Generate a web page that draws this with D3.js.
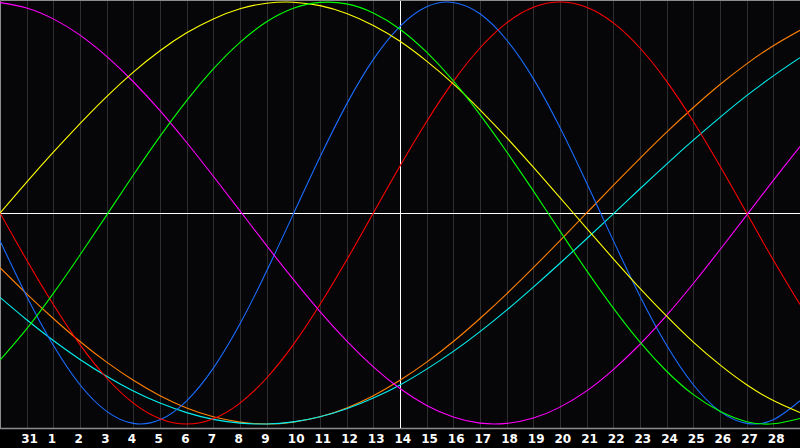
<!DOCTYPE html>
<html>
<head>
<meta charset="utf-8">
<script src="https://cdn.jsdelivr.net/npm/d3@7"></script>
<style>
  html, body { margin: 0; padding: 0; background: #000; }
  svg { display: block; }
</style>
</head>
<body>
<div id="bio"></div>
<script>
const WIDTH = 800;
const HEIGHT = 448;
const PLOT_BOTTOM = 428;

// day slots 0..30, today (14) sits in slot 15
const DAY_LABELS = ["31", "1", "2", "3", "4", "5", "6", "7", "8", "9", "10", "11", "12", "13", "14",
  "15", "16", "17", "18", "19", "20", "21", "22", "23", "24", "25", "26", "27", "28"];
const TODAY_SLOT = 15;

// values, one per day slot (-1 .. 1)
const blue = [-0.131, -0.394, -0.627, -0.814, -0.940, -0.997, -0.980, -0.890, -0.735, -0.525, -0.275,
  -0.005, 0.265, 0.516, 0.728, 0.885, 0.978, 0.998, 0.944, 0.820, 0.637, 0.405, 0.142, -0.131,
  -0.394, -0.627, -0.814, -0.940, -0.997, -0.980, -0.890];
const red = [0, -0.223, -0.434, -0.624, -0.782, -0.901, -0.975, -1, -0.975, -0.901, -0.782, -0.624,
  -0.434, -0.223, 0, 0.223, 0.434, 0.624, 0.782, 0.901, 0.975, 1, 0.975, 0.901, 0.782, 0.624,
  0.434, 0.223, 0, -0.223, -0.434];
const green = [-0.697, -0.549, -0.381, -0.199, -0.010, 0.180, 0.363, 0.533, 0.683, 0.809, 0.906,
  0.970, 0.998, 0.991, 0.948, 0.871, 0.762, 0.626, 0.466, 0.290, 0.105, -0.086, -0.273, -0.451,
  -0.612, -0.750, -0.861, -0.940, -0.989, -0.999, -0.974];
const yellow = [0, 0.146, 0.288, 0.424, 0.552, 0.668, 0.769, 0.854, 0.920, 0.968, 0.994, 0.999,
  0.983, 0.946, 0.889, 0.814, 0.720, 0.612, 0.489, 0.357, 0.217, 0.073, -0.073, -0.217, -0.357,
  -0.489, -0.612, -0.720, -0.814, -0.889, -0.946];
const magenta = [0.997, 0.972, 0.920, 0.843, 0.742, 0.622, 0.485, 0.334, 0.174, 0.010, -0.155,
  -0.315, -0.467, -0.606, -0.729, -0.832, -0.912, -0.967, -0.996, -0.997, -0.972, -0.920, -0.843,
  -0.742, -0.622, -0.485, -0.334, -0.174, -0.010, 0.155, 0.315];
const orange = [-0.259, -0.383, -0.5, -0.609, -0.707, -0.793, -0.866, -0.924, -0.966, -0.991, -1,
  -0.991, -0.966, -0.924, -0.866, -0.793, -0.707, -0.609, -0.5, -0.383, -0.259, -0.131, 0, 0.131,
  0.259, 0.383, 0.5, 0.609, 0.707, 0.793, 0.866];
const cyan = [-0.400, -0.506, -0.604, -0.694, -0.774, -0.844, -0.901, -0.946, -0.978, -0.996, -1,
  -0.990, -0.966, -0.928, -0.877, -0.815, -0.740, -0.656, -0.562, -0.460, -0.351, -0.238, -0.122,
  -0.004, 0.115, 0.232, 0.345, 0.453, 0.556, 0.650, 0.736];

const SERIES = [
  { values: orange, color: "#ff8000" },
  { values: cyan, color: "#00f0f0" },
  { values: blue, color: "#1a6cff" },
  { values: red, color: "#ff0000" },
  { values: magenta, color: "#ff00ff" },
  { values: yellow, color: "#ffff00" },
  { values: green, color: "#00ff00" }
];

const svg = d3.select("#bio")
  .append("svg")
  .attr("width", WIDTH)
  .attr("height", HEIGHT);

svg.append("rect")
  .attr("width", WIDTH)
  .attr("height", HEIGHT)
  .attr("fill", "#000000");

svg.append("rect")
  .attr("width", WIDTH)
  .attr("height", PLOT_BOTTOM)
  .attr("fill", "#060608");

const xScale = d3.scaleLinear()
  .domain([0, 30])
  .range([0, WIDTH]);

const yScale = d3.scaleLinear()
  .domain([-1, 1])
  .range([424, 2]);

// day grid
svg.append("g")
  .selectAll("line")
  .data(d3.range(1, 30).filter(i => i !== TODAY_SLOT))
  .enter()
  .append("line")
  .attr("x1", d => Math.round(xScale(d)) + 0.5)
  .attr("x2", d => Math.round(xScale(d)) + 0.5)
  .attr("y1", 1)
  .attr("y2", PLOT_BOTTOM)
  .attr("stroke", "#2e2e30")
  .attr("stroke-width", 1);

// frame
svg.append("path")
  .attr("d", `M0.5,${PLOT_BOTTOM + 0.5} V0.5 H${WIDTH}`)
  .attr("fill", "none")
  .attr("stroke", "#8c8c8c")
  .attr("stroke-width", 1);
svg.append("line")
  .attr("x1", 0).attr("x2", WIDTH)
  .attr("y1", PLOT_BOTTOM + 0.5).attr("y2", PLOT_BOTTOM + 0.5)
  .attr("stroke", "#8c8c8c")
  .attr("stroke-width", 1.5);

// zero line and today marker
svg.append("line")
  .attr("x1", 0).attr("x2", WIDTH)
  .attr("y1", Math.round(yScale(0)) + 0.5).attr("y2", Math.round(yScale(0)) + 0.5)
  .attr("stroke", "#ffffff")
  .attr("stroke-width", 1);
svg.append("line")
  .attr("x1", xScale(TODAY_SLOT) + 0.5).attr("x2", xScale(TODAY_SLOT) + 0.5)
  .attr("y1", 1).attr("y2", PLOT_BOTTOM)
  .attr("stroke", "#ffffff")
  .attr("stroke-width", 1);

const line = d3.line()
  .x((d, i) => xScale(i))
  .y(d => yScale(d))
  .curve(d3.curveNatural);

svg.append("g")
  .selectAll("path")
  .data(SERIES)
  .enter()
  .append("path")
  .attr("d", d => line(d.values))
  .attr("fill", "none")
  .attr("stroke", d => d.color)
  .attr("stroke-width", 1.1);

// day labels
const xAxis = d3.axisBottom(xScale)
  .tickValues(d3.range(1, 30))
  .tickFormat(d => DAY_LABELS[d - 1])
  .tickSize(0);

const axisG = svg.append("g")
  .attr("transform", `translate(0, ${PLOT_BOTTOM})`)
  .call(xAxis);
axisG.select(".domain").remove();
axisG.selectAll("text")
  .attr("y", 15)
  .attr("dy", 0)
  .attr("dx", -6)
  .style("text-anchor", "start")
  .style("font-family", "'DejaVu Sans', sans-serif")
  .style("font-weight", "bold")
  .style("font-size", "12px")
  .style("fill", "#ffffff");
</script>
</body>
</html>
